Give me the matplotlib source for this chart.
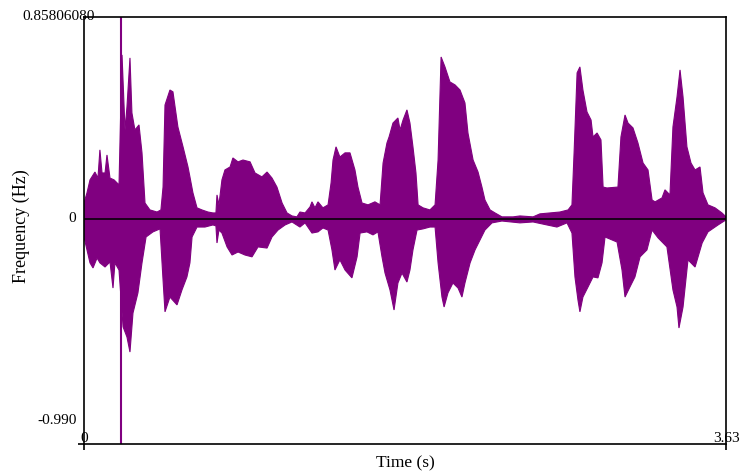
import matplotlib.pyplot as plt
import numpy as np

plt.rcParams['font.family'] = ['Liberation Serif', 'DejaVu Serif']

# upper envelope of the waveform (time in s, amplitude)
top_t = [0.000, 0.017, 0.034, 0.062, 0.079, 0.090, 0.102, 0.119, 0.130, 0.147,
         0.170, 0.187, 0.198, 0.215, 0.232, 0.243, 0.260, 0.271, 0.288, 0.311,
         0.328, 0.345, 0.373, 0.413, 0.435, 0.447, 0.458, 0.486, 0.503, 0.531,
         0.560, 0.588, 0.599, 0.616, 0.639, 0.667, 0.701, 0.729, 0.746, 0.752,
         0.763, 0.780, 0.797, 0.826, 0.842, 0.871, 0.899, 0.939, 0.967, 1.006,
         1.035, 1.063, 1.091, 1.120, 1.148, 1.176, 1.204, 1.221, 1.250, 1.278,
         1.289, 1.306, 1.323, 1.351, 1.380, 1.397, 1.408, 1.425, 1.447, 1.476,
         1.504, 1.532, 1.549, 1.572, 1.606, 1.645, 1.674, 1.691, 1.713, 1.725,
         1.747, 1.775, 1.787, 1.804, 1.826, 1.843, 1.860, 1.877, 1.889, 1.917,
         1.956, 1.985, 2.002, 2.019, 2.041, 2.069, 2.098, 2.126, 2.154, 2.171,
         2.200, 2.228, 2.250, 2.267, 2.296, 2.324, 2.363, 2.426, 2.465, 2.539,
         2.578, 2.635, 2.691, 2.737, 2.759, 2.771, 2.788, 2.804, 2.821, 2.844,
         2.867, 2.878, 2.901, 2.923, 2.935, 2.957, 3.019, 3.036, 3.059, 3.076,
         3.104, 3.132, 3.161, 3.189, 3.212, 3.229, 3.268, 3.285, 3.313, 3.330,
         3.353, 3.370, 3.387, 3.409, 3.432, 3.455, 3.483, 3.500, 3.528, 3.568,
         3.607, 3.630]
top_a = [0.069, 0.113, 0.169, 0.203, 0.177, 0.299, 0.199, 0.199, 0.277, 0.177,
         0.169, 0.156, 0.147, 0.710, 0.385, 0.485, 0.697, 0.459, 0.385, 0.407,
         0.286, 0.069, 0.039, 0.030, 0.039, 0.138, 0.493, 0.558, 0.550, 0.398,
         0.312, 0.225, 0.182, 0.113, 0.048, 0.039, 0.030, 0.026, 0.026, 0.104,
         0.061, 0.169, 0.212, 0.225, 0.264, 0.247, 0.255, 0.247, 0.199, 0.182,
         0.203, 0.177, 0.138, 0.069, 0.026, 0.013, 0.009, 0.030, 0.026, 0.052,
         0.074, 0.048, 0.074, 0.048, 0.061, 0.156, 0.255, 0.312, 0.268, 0.286,
         0.286, 0.212, 0.138, 0.069, 0.061, 0.074, 0.061, 0.242, 0.329, 0.355,
         0.415, 0.437, 0.385, 0.428, 0.472, 0.415, 0.312, 0.199, 0.061, 0.048,
         0.039, 0.061, 0.255, 0.701, 0.658, 0.593, 0.580, 0.558, 0.502, 0.372,
         0.255, 0.203, 0.138, 0.082, 0.039, 0.026, 0.009, 0.009, 0.013, 0.009,
         0.022, 0.026, 0.030, 0.039, 0.061, 0.286, 0.632, 0.658, 0.558, 0.463,
         0.428, 0.355, 0.372, 0.342, 0.138, 0.134, 0.138, 0.355, 0.450, 0.415,
         0.394, 0.329, 0.242, 0.212, 0.082, 0.074, 0.091, 0.126, 0.104, 0.398,
         0.528, 0.645, 0.528, 0.312, 0.242, 0.212, 0.225, 0.113, 0.061, 0.048,
         0.026, 0.009]

# lower envelope of the waveform
bot_t = [0.000, 0.017, 0.034, 0.051, 0.074, 0.090, 0.119, 0.147, 0.164, 0.175,
         0.198, 0.221, 0.243, 0.260, 0.277, 0.305, 0.328, 0.351, 0.390, 0.430,
         0.447, 0.458, 0.486, 0.526, 0.554, 0.582, 0.599, 0.611, 0.639, 0.684,
         0.729, 0.746, 0.752, 0.763, 0.780, 0.809, 0.837, 0.871, 0.910, 0.950,
         0.984, 1.035, 1.063, 1.097, 1.137, 1.176, 1.221, 1.250, 1.289, 1.323,
         1.351, 1.380, 1.402, 1.419, 1.447, 1.476, 1.515, 1.544, 1.561, 1.600,
         1.634, 1.662, 1.685, 1.702, 1.730, 1.753, 1.775, 1.798, 1.826, 1.843,
         1.860, 1.883, 1.917, 1.956, 1.985, 2.002, 2.024, 2.036, 2.058, 2.086,
         2.115, 2.137, 2.154, 2.183, 2.211, 2.239, 2.267, 2.307, 2.363, 2.465,
         2.539, 2.618, 2.674, 2.731, 2.759, 2.776, 2.793, 2.804, 2.821, 2.850,
         2.878, 2.906, 2.929, 2.946, 3.014, 3.042, 3.059, 3.087, 3.115, 3.144,
         3.183, 3.212, 3.246, 3.296, 3.330, 3.353, 3.364, 3.387, 3.415, 3.455,
         3.495, 3.528, 3.585, 3.630]
bot_a = [-0.078, -0.134, -0.190, -0.212, -0.169, -0.190, -0.208, -0.186, -0.299, -0.190,
         -0.221, -0.467, -0.511, -0.576, -0.407, -0.320, -0.190, -0.078, -0.056, -0.043,
         -0.264, -0.402, -0.338, -0.372, -0.307, -0.251, -0.190, -0.078, -0.035, -0.035,
         -0.026, -0.030, -0.104, -0.048, -0.061, -0.121, -0.156, -0.143, -0.156, -0.164,
         -0.121, -0.126, -0.078, -0.048, -0.026, -0.013, -0.035, -0.017, -0.061, -0.056,
         -0.039, -0.048, -0.134, -0.221, -0.177, -0.221, -0.255, -0.164, -0.061, -0.056,
         -0.069, -0.056, -0.164, -0.234, -0.307, -0.394, -0.277, -0.234, -0.273, -0.221,
         -0.134, -0.048, -0.043, -0.035, -0.035, -0.190, -0.338, -0.381, -0.320, -0.277,
         -0.299, -0.338, -0.277, -0.190, -0.134, -0.091, -0.048, -0.017, -0.009, -0.017,
         -0.013, -0.026, -0.035, -0.017, -0.061, -0.251, -0.351, -0.402, -0.338, -0.294,
         -0.251, -0.255, -0.190, -0.078, -0.100, -0.221, -0.338, -0.294, -0.251, -0.164,
         -0.134, -0.048, -0.082, -0.121, -0.307, -0.381, -0.472, -0.381, -0.177, -0.208,
         -0.104, -0.056, -0.026, -0.004]

# clipped click near the start
spike_t = 0.209
spike_range = (-1.0, 1.0)

t_end = 3.63
y_min, y_max = -0.974, 0.874

fig = plt.figure(figsize=(7.4, 4.72), dpi=100)
ax = fig.add_axes([0.1135, 0.0593, 0.8676, 0.9047])

wave_color = '#800080'
xs = np.concatenate([top_t, bot_t[::-1]])
ys = np.concatenate([top_a, bot_a[::-1]])
ax.fill(xs, ys, color=wave_color, lw=0.8, ec=wave_color)
ax.vlines(spike_t, *spike_range, color=wave_color, lw=1.5)
ax.axhline(0, color='#1a001a', lw=1.4)

ax.set_xlim(0, t_end)
ax.set_ylim(y_min, y_max)
for s in ax.spines.values():
    s.set_linewidth(1.2)
ax.set_xticks([0, t_end])
ax.set_yticks([y_min])
ax.tick_params(length=4, width=1.2, labelbottom=False, labelleft=False)

fs = 11
ax.text(0.017, 1.0, '0.85806080', transform=ax.transAxes, ha='right', va='center', fontsize=fs)
ax.text(-0.012, 0, '0', transform=ax.get_yaxis_transform(), ha='right', va='center', fontsize=fs)
ax.text(-0.011, 0.056, '-0.990', transform=ax.transAxes, ha='right', va='center', fontsize=fs)
ax.text(0, 0.014, '0', transform=ax.transAxes, ha='center', va='center', fontsize=fs)
ax.text(1.0, 0.014, '3.63', transform=ax.transAxes, ha='center', va='center', fontsize=fs)
ax.text(0.5, -0.045, 'Time (s)', transform=ax.transAxes, ha='center', va='center', fontsize=12.5)
ax.text(-0.098, 0.51, 'Frequency (Hz)', transform=ax.transAxes, ha='center', va='center',
        rotation=90, fontsize=13)

fig.savefig('out.png', dpi=100)
